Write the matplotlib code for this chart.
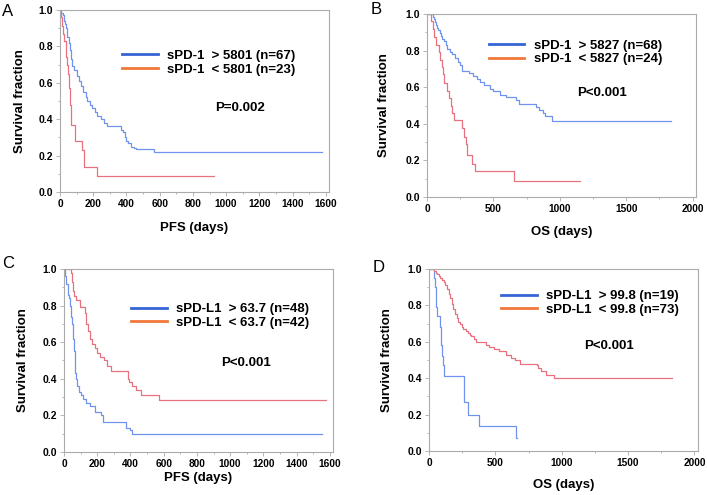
import matplotlib
matplotlib.use("Agg")
import matplotlib.pyplot as plt
from matplotlib.lines import Line2D
from matplotlib.ticker import MultipleLocator

plt.rcParams['font.family'] = ['Liberation Sans', 'DejaVu Sans']

# Panel A: sPD-1, PFS
a_hi_t = [0, 8, 15, 22, 30, 38, 45, 52, 60, 68, 75, 85, 100, 115, 125, 140, 155, 165, 180, 195,
          210, 225, 245, 265, 285, 370, 380, 390, 400, 410, 425, 445, 460, 565, 1580]
a_hi_s = [1.0, 0.985, 0.97, 0.94, 0.925, 0.90, 0.85, 0.82, 0.78, 0.73, 0.69, 0.67, 0.64, 0.61, 0.58, 0.55, 0.52, 0.50, 0.48, 0.46,
          0.44, 0.42, 0.40, 0.38, 0.365, 0.34, 0.33, 0.30, 0.28, 0.27, 0.25, 0.24, 0.235, 0.22, 0.22]
a_lo_t = [0, 5, 12, 18, 25, 35, 42, 50, 57, 63, 68, 88, 135, 145, 225, 930]
a_lo_s = [1.0, 0.96, 0.91, 0.87, 0.83, 0.74, 0.70, 0.65, 0.57, 0.48, 0.37, 0.28, 0.23, 0.14, 0.09, 0.09]

# Panel B: sPD-1, OS
b_hi_t = [0, 42, 50, 58, 66, 75, 85, 95, 105, 115, 128, 140, 153, 170, 190, 210, 230, 250, 264, 313,
          350, 380, 400, 430, 473, 497, 547, 596, 670, 695, 818, 843, 870, 892, 941, 1840]
b_hi_s = [1.0, 0.985, 0.97, 0.955, 0.94, 0.925, 0.91, 0.895, 0.88, 0.865, 0.85, 0.83, 0.81, 0.79, 0.78, 0.76, 0.74, 0.72, 0.69, 0.675,
          0.66, 0.645, 0.63, 0.61, 0.59, 0.58, 0.56, 0.545, 0.53, 0.51, 0.49, 0.475, 0.46, 0.44, 0.415, 0.415]
b_lo_t = [0, 30, 45, 55, 70, 90, 100, 110, 120, 130, 150, 165, 177, 190, 202, 264, 276, 290, 302, 337, 362, 658, 1150]
b_lo_s = [1.0, 0.96, 0.92, 0.875, 0.83, 0.79, 0.75, 0.71, 0.67, 0.625, 0.58, 0.54, 0.50, 0.46, 0.42, 0.375, 0.33, 0.29, 0.23, 0.18, 0.14, 0.09, 0.09]

# Panel C: sPD-L1, PFS
c_hi_t = [0, 8, 15, 22, 30, 38, 45, 50, 55, 60, 65, 72, 80, 90, 100, 115, 135, 155, 185, 225,
          232, 372, 400, 410, 1550]
c_hi_s = [1.0, 0.96, 0.92, 0.86, 0.84, 0.80, 0.74, 0.70, 0.62, 0.55, 0.43, 0.40, 0.36, 0.33, 0.31, 0.29, 0.27, 0.25, 0.22, 0.20,
          0.165, 0.13, 0.12, 0.10, 0.10]
c_lo_t = [0, 40, 46, 55, 62, 75, 95, 125, 135, 145, 154, 170, 184, 198, 214, 240, 257, 283, 388, 392,
          412, 432, 461, 574, 1580]
c_lo_s = [1.0, 0.98, 0.93, 0.88, 0.85, 0.83, 0.79, 0.76, 0.70, 0.66, 0.62, 0.59, 0.57, 0.54, 0.52, 0.50, 0.47, 0.44, 0.40, 0.38,
          0.36, 0.34, 0.31, 0.285, 0.285]

# Panel D: sPD-L1, OS
d_hi_t = [0, 37, 44, 52, 56, 61, 81, 88, 94, 100, 108, 115, 263, 294, 380, 658, 662]
d_hi_s = [1.0, 0.95, 0.90, 0.84, 0.79, 0.74, 0.68, 0.63, 0.58, 0.52, 0.47, 0.41, 0.27, 0.20, 0.135, 0.07, 0.07]
d_lo_t = [0, 37, 50, 61, 75, 86, 100, 110, 122, 135, 148, 160, 172, 184, 196, 209, 221, 233, 246, 258,
          276, 294, 306, 319, 337, 356, 430, 454, 491, 528, 577, 614, 650, 687, 810, 822, 847, 883, 945, 1830]
d_lo_s = [1.0, 0.99, 0.98, 0.97, 0.96, 0.95, 0.94, 0.93, 0.91, 0.89, 0.86, 0.84, 0.81, 0.78, 0.75, 0.73, 0.71, 0.70, 0.68, 0.67,
          0.66, 0.65, 0.64, 0.63, 0.615, 0.60, 0.585, 0.57, 0.56, 0.55, 0.53, 0.51, 0.50, 0.48, 0.47, 0.455, 0.44, 0.42, 0.40, 0.40]

labels_a = ["sPD-1  > 5801 (n=67)", "sPD-1  < 5801 (n=23)"]
labels_b = ["sPD-1  > 5827 (n=68)", "sPD-1  < 5827 (n=24)"]
labels_c = ["sPD-L1  > 63.7 (n=48)", "sPD-L1  < 63.7 (n=42)"]
labels_d = ["sPD-L1  > 99.8 (n=19)", "sPD-L1  < 99.8 (n=73)"]

curve_blue = '#7093ee'
curve_red = '#e9707f'
leg_blue = '#3565d4'
leg_orange = '#f0783a'
frame = '#ababab'

fig = plt.figure(figsize=(7.07, 4.95), dpi=100)


def panel(rect, letter, letter_xy, hi, lo, labels, ptext, xmax, xmajor, xlabel,
          leg_xy, p_xy, ylab_x, xlab_y):
    ax = fig.add_axes(rect)
    ax.step(hi[0], hi[1], where='post', color=curve_blue, lw=0.9)
    ax.step(lo[0], lo[1], where='post', color=curve_red, lw=0.9)
    ax.set_xlim(0, xmax * 1.012)
    ax.set_ylim(0, 1.0)
    ax.xaxis.set_minor_locator(MultipleLocator(xmajor / 2))
    ax.yaxis.set_minor_locator(MultipleLocator(0.1))
    ax.set_xticks(range(0, xmax + 1, xmajor))
    ax.set_yticks([0, 0.2, 0.4, 0.6, 0.8, 1.0])
    ax.set_yticklabels(['0.0', '0.2', '0.4', '0.6', '0.8', '1.0'])
    for sp in ax.spines.values():
        sp.set_color(frame)
        sp.set_linewidth(0.8)
    ax.tick_params(which='major', length=3, width=0.6, color=frame, pad=2)
    ax.tick_params(which='minor', length=1.5, width=0.6, color=frame)
    for lab in ax.get_xticklabels():
        lab.set_fontsize(7.3)
        lab.set_fontweight('bold')
    for lab in ax.get_yticklabels():
        lab.set_fontsize(7.5)
        lab.set_fontweight('bold')
    ax.set_ylabel('Survival fraction', fontsize=9.5, fontweight='bold')
    ax.set_xlabel(xlabel, fontsize=9.5, fontweight='bold')
    ax.yaxis.set_label_coords(ylab_x, 0.5)
    ax.yaxis.label.set_va('center')
    ax.xaxis.set_label_coords(0.5, xlab_y)
    ax.xaxis.label.set_va('center')
    handles = [Line2D([], [], color=leg_blue, lw=2), Line2D([], [], color=leg_orange, lw=2)]
    ax.legend(handles, labels, loc='center left', bbox_to_anchor=leg_xy, frameon=False,
              borderpad=0, borderaxespad=0, handlelength=2.7, handletextpad=0.7,
              labelspacing=0.12, prop={'size': 9.5, 'weight': 'bold'})
    ax.text(p_xy[0], p_xy[1], ptext, transform=ax.transAxes, ha='center', va='center',
            fontsize=9.5, fontweight='bold')
    fig.text(letter_xy[0] / 707, 1 - letter_xy[1] / 495, letter, fontsize=12,
             ha='left', va='center')
    return ax


panel([0.0849, 0.6121, 0.3804, 0.3677], 'A', (2, 12), (a_hi_t, a_hi_s), (a_lo_t, a_lo_s),
      labels_a, 'P=0.002', 1600, 200, 'PFS (days)', (0.23, 0.71), (0.669, 0.46), -0.147, -0.198)
panel([0.604, 0.602, 0.380, 0.3697], 'B', (371, 10), (b_hi_t, b_hi_s), (b_lo_t, b_lo_s),
      labels_b, 'P<0.001', 2000, 500, 'OS (days)', (0.23, 0.79), (0.65, 0.568), -0.159, -0.19)
panel([0.0905, 0.0869, 0.3805, 0.3697], 'C', (2, 263), (c_hi_t, c_hi_s), (c_lo_t, c_lo_s),
      labels_c, 'P<0.001', 1600, 200, 'PFS (days)', (0.25, 0.743), (0.676, 0.486), -0.151, -0.142)
panel([0.6068, 0.0889, 0.380, 0.3677], 'D', (373, 267), (d_hi_t, d_hi_s), (d_lo_t, d_lo_s),
      labels_d, 'P<0.001', 2000, 500, 'OS (days)', (0.268, 0.813), (0.67, 0.577), -0.158, -0.187)

fig.savefig('out.png', dpi=100)
